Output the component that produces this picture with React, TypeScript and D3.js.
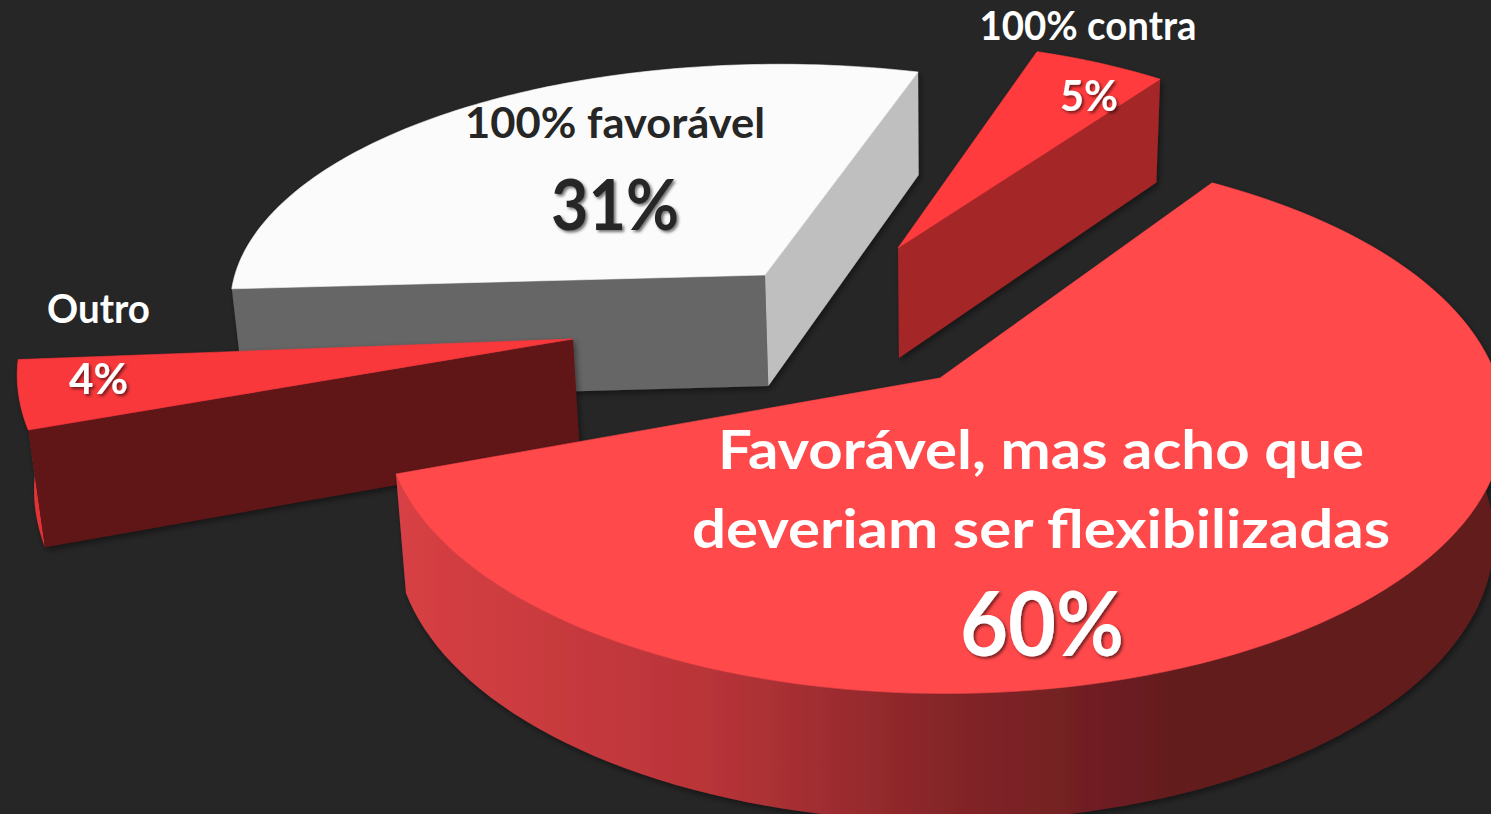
import React from "react";
import * as d3 from "d3";

// ---- data ----
const categories = ["100% favorável", "100% contra", "Favorável, mas acho que deveriam ser flexibilizadas", "Outro"];
const shares = [31, 5, 60, 4];
const percentLabels = ["31%", "5%", "60%", "4%"];

// ---- layout & style ----
const W = 1491, H = 814;
const BG = "#262626";
const START = (16 - 111.6) * Math.PI / 180;

type Geo = { ax: number; ay: number; rx: number; ry: number; rot: number; p: number; q: number; top: string; walls: { edge: 0 | 1 | 2; fill: string }[] };
const geo: Geo[] = [
  { ax: 765, ay: 275, rx: 546, ry: 238, rot: 2.2, p: 0.13, q: 0.03, top: "#fbfbfb", walls: [{ edge: 2, fill: "#666666" }, { edge: 1, fill: "#bfbfbf" }] },
  { ax: 898, ay: 248, rx: 482, ry: 233, rot: 2.9, p: 0.13, q: 0, top: "#ff3b3e", walls: [{ edge: 1, fill: "#a52527" }] },
  { ax: 940, ay: 378, rx: 552, ry: 265, rot: -0.2, p: 0.16, q: 0.008, top: "#ff484c", walls: [{ edge: 0, fill: "url(#mainWall)" }] },
  { ax: 573, ay: 339, rx: 551, ry: 272, rot: 1.3, p: 0.13, q: 0, top: "#f8373b", walls: [{ edge: 0, fill: "#e23236" }, { edge: 2, fill: "#611516" }] },
];

const drawOrder = [0, 1, 3, 2];

type T = { text: string; x: number; y: number; size: number; len: number; fill: string; shadow?: boolean };
const texts: T[] = [
  { text: categories[1], x: 1088, y: 40, size: 40, len: 217, fill: "#fff" },
  { text: percentLabels[1], x: 1089, y: 111, size: 42, len: 58, fill: "#fff", shadow: true },
  { text: categories[0], x: 615, y: 138, size: 42, len: 300, fill: BG },
  { text: percentLabels[0], x: 615, y: 230, size: 71, len: 128, fill: BG, shadow: true },
  { text: categories[3], x: 98.5, y: 323, size: 40, len: 103, fill: "#fff" },
  { text: percentLabels[3], x: 98.5, y: 394, size: 42, len: 59, fill: "#fff", shadow: true },
  { text: "Favorável, mas acho que", x: 1041, y: 469, size: 54, len: 646, fill: "#fff" },
  { text: "deveriam ser flexibilizadas", x: 1041, y: 548, size: 54, len: 698, fill: "#fff" },
  { text: percentLabels[2], x: 1042, y: 656, size: 90, len: 164, fill: "#fff", shadow: true },
];

const pie = d3.pie<number>().sort(null).startAngle(START).endAngle(START + 2 * Math.PI);
const arcs = pie(shares);
const line = d3.line<[number, number]>();

function project(g: Geo, a: number): [number, number] {
  const X = Math.sin(a), Y = -Math.cos(a);
  const w = 1 - g.p * Y - g.q * X;
  return [g.ax + (g.rx * X) / w, g.ay + (g.ry * Y) / w];
}
function drop([x, y]: [number, number]): [number, number] {
  return [x + 0.018 * (950 - x), y + 100 + 0.04 * y];
}
function arcPoints(g: Geo, a0: number, a1: number) {
  return d3.range(121).map((i) => project(g, a0 + ((a1 - a0) * i) / 120));
}

export default function App() {
  return (
    <svg width={W} height={H} viewBox={`0 0 ${W} ${H}`} style={{ position: "absolute", left: 0, top: 0, display: "block" }}
      fontFamily="Lato, 'Open Sans', sans-serif" fontWeight={700}>
      <defs>
        <linearGradient id="mainWall" gradientUnits="userSpaceOnUse" x1={396} x2={1180} y1={0} y2={0}>
          <stop offset="0" stopColor="#d84044" />
          <stop offset="0.4" stopColor="#b83438" />
          <stop offset="0.7" stopColor="#852528" />
          <stop offset="1" stopColor="#631b1e" />
        </linearGradient>
        <filter id="wallShadow" x="-10%" y="-10%" width="120%" height="120%">
          <feDropShadow dx={2} dy={3} stdDeviation={3} floodColor="#000" floodOpacity={0.45} />
        </filter>
        <filter id="textShadow" x="-20%" y="-20%" width="140%" height="140%">
          <feDropShadow dx={2} dy={2} stdDeviation={1.6} floodColor="#000" floodOpacity={0.55} />
        </filter>
      </defs>
      <rect width={W} height={H} fill={BG} />
      {drawOrder.map((idx) => {
        const g = geo[idx];
        const a0 = arcs[idx].startAngle + (g.rot * Math.PI) / 180;
        const a1 = arcs[idx].endAngle + (g.rot * Math.PI) / 180;
        const rim = arcPoints(g, a0, a1);
        const apex: [number, number] = [g.ax, g.ay];
        const facePath = line([apex, ...rim])! + "Z";
        return (
          <g key={categories[idx]} filter="url(#wallShadow)">
            {g.walls.map((wall, j) => {
              const top =
                wall.edge === 0 ? rim : wall.edge === 1 ? [apex, rim[rim.length - 1]] : [apex, rim[0]];
              const poly = [...top, ...top.slice().reverse().map(drop)];
              return <path key={j} d={line(poly)! + "Z"} fill={wall.fill} />;
            })}
            <path d={facePath} fill={g.top} stroke={g.top} strokeWidth={0.6} />
          </g>
        );
      })}
      {texts.map((t) => (
        <text key={t.text} x={t.x} y={t.y} fontSize={t.size} fill={t.fill} textAnchor="middle"
          textLength={t.len} lengthAdjust="spacingAndGlyphs" filter={t.shadow ? "url(#textShadow)" : undefined}>
          {t.text}
        </text>
      ))}
    </svg>
  );
}
